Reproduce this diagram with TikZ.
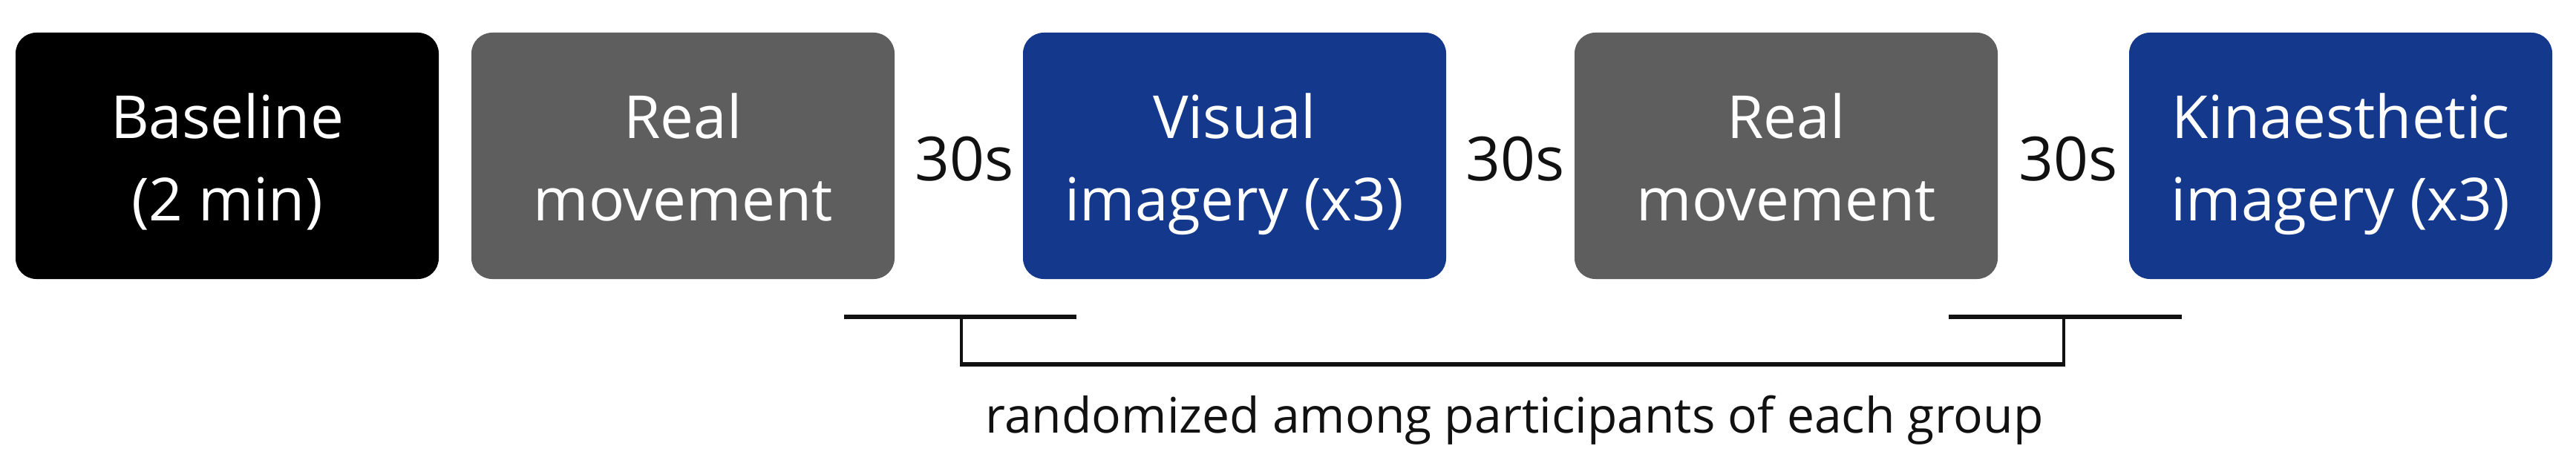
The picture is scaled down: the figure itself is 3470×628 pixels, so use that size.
\documentclass[tikz,border=0pt]{standalone}
\usepackage{fontspec}
\setmainfont{Open Sans}
\definecolor{boxblack}{HTML}{000000}
\definecolor{boxgray}{HTML}{5E5E5E}
\definecolor{boxblue}{HTML}{13388C}
\definecolor{txtdark}{HTML}{111111}
\newcommand\boxline[1]{\rule{0pt}{65pt}\smash{#1}}
\begin{document}
\begin{tikzpicture}[x=1pt,y=-1pt,
  phase/.style={rounded corners=28pt, minimum width=570pt, minimum height=332pt,
    inner sep=0pt, align=center, text=white, font=\fontsize{80}{111}\selectfont},
  gap/.style={text=txtdark, inner sep=0pt, anchor=base, font=\fontsize{82}{100}\selectfont},
  barline/.style={line width=6pt, draw=txtdark},
  stemline/.style={line width=3.5pt, draw=txtdark},
  note/.style={text=txtdark, inner sep=0pt, anchor=base, font=\fontsize{66}{80}\selectfont}]
\useasboundingbox (0,0) rectangle (3470,628);
\fill[white] (0,0) rectangle (3470,628);
\node[phase, fill=boxblack] (base) at (306,210) {\boxline{Baseline}\\\boxline{(2 min)}};
\node[phase, fill=boxgray] (real1) at (920,210) {\boxline{Real}\\\boxline{movement}};
\node[phase, fill=boxblue] (vis) at (1663,210) {\boxline{Visual}\\\boxline{imagery (x3)}};
\node[phase, fill=boxgray] (real2) at (2406,210) {\boxline{Real}\\\boxline{movement}};
\node[phase, fill=boxblue] (kin) at (3153,210) {\boxline{Kinaesthetic}\\\boxline{imagery (x3)}};
\node[gap] (g1) at (1299,244) {30s};
\node[gap] (g2) at (2041,244) {30s};
\node[gap] (g3) at (2786,244) {30s};
\coordinate (l1) at (1137,427);
\coordinate (l2) at (1450,427);
\coordinate (lt) at (1295,427);
\coordinate (lb) at (1295,491);
\coordinate (r1) at (2625,427);
\coordinate (r2) at (2939,427);
\coordinate (rt) at (2780,427);
\coordinate (rb) at (2780,491);
\draw[barline] (l1) -- (l2);
\draw[barline] (r1) -- (r2);
\draw[stemline] (lt) -- (lb);
\draw[stemline] (rt) -- (rb);
\draw[barline] ([xshift=-1.75pt]lb) -- ([xshift=1.75pt]rb);
\node[note] (rand) at (2040,583) {randomized among participants of each group};
\end{tikzpicture}
\end{document}
